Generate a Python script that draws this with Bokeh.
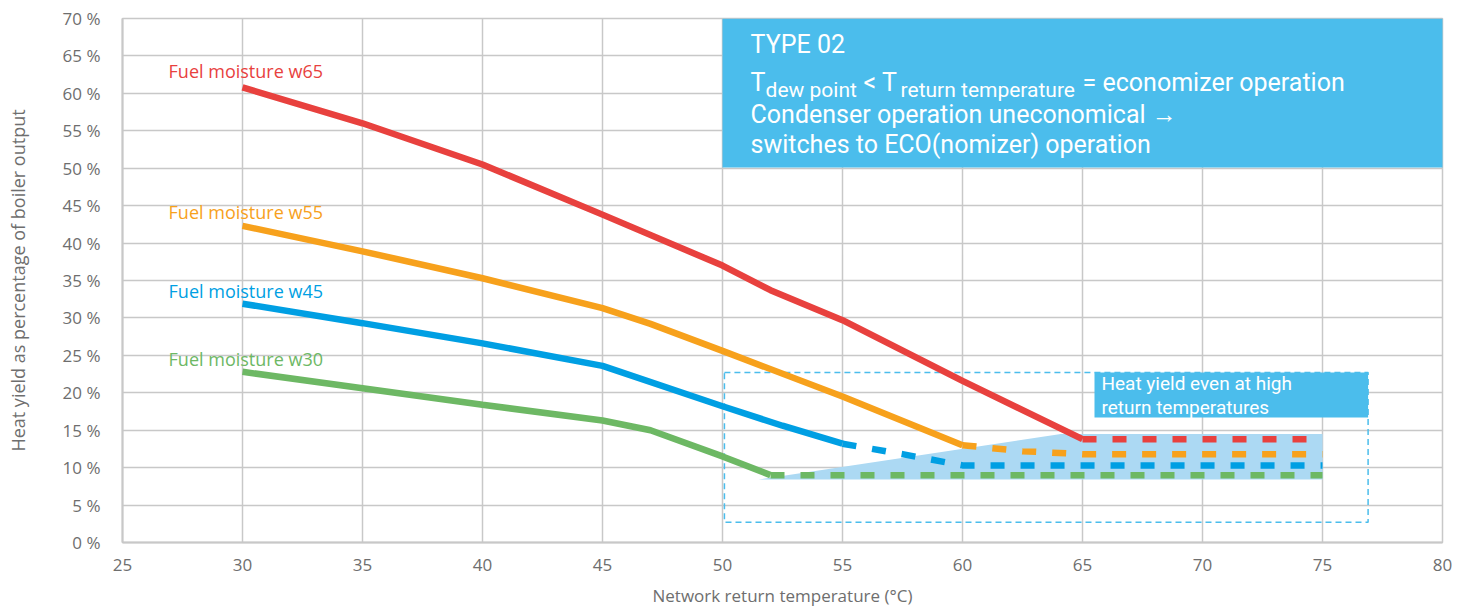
from bokeh.plotting import figure
from bokeh.models import Range1d, FixedTicker, PrintfTickFormatter, Label
from bokeh.embed import file_html
from bokeh.resources import INLINE

# ---- data ----
x_ticks = [25, 30, 35, 40, 45, 50, 55, 60, 65, 70, 75, 80]
y_ticks = [0, 5, 10, 15, 20, 25, 30, 35, 40, 45, 50, 55, 60, 65, 70]

w65_x = [30, 35, 40, 45, 50, 52, 55, 60, 65]
w65_y = [60.8, 56.0, 50.5, 43.8, 37.0, 33.7, 29.7, 21.6, 13.8]
w65_dx = [65, 75]
w65_dy = [13.8, 13.8]

w55_x = [30, 35, 40, 45, 47, 50, 55, 60]
w55_y = [42.3, 38.9, 35.3, 31.3, 29.2, 25.6, 19.5, 13.0]
w55_dx = [60, 62.5, 65, 75]
w55_dy = [13.0, 12.2, 11.8, 11.8]

w45_x = [30, 35, 40, 45, 50, 52.5, 55]
w45_y = [31.9, 29.3, 26.6, 23.6, 18.2, 15.6, 13.2]
w45_dx = [55, 57.5, 60, 75]
w45_dy = [13.2, 11.8, 10.3, 10.3]

w30_x = [30, 35, 40, 45, 47, 50, 52]
w30_y = [22.8, 20.6, 18.4, 16.3, 15.0, 11.5, 9.0]
w30_dx = [52, 75]
w30_dy = [9.0, 9.0]

zone_x = [51.5, 64.1, 75, 75]
zone_y = [8.4, 14.5, 14.5, 8.4]

series_names = ["Fuel moisture w65", "Fuel moisture w55", "Fuel moisture w45", "Fuel moisture w30"]
series_colors = ["#e8413e", "#f7a11c", "#009fe3", "#6db864"]

RED, ORANGE, BLUE, GREEN = series_colors
BOX = "#4bbdec"
GRID = "#c8c8c8"
TXT = "#6e6e6e"

p = figure(width=1462, height=609, output_backend="svg", toolbar_location=None,
           x_range=Range1d(25, 80), y_range=Range1d(0, 70),
           min_border_left=122, min_border_right=20, min_border_top=18, min_border_bottom=67)
p.outline_line_color = GRID
p.outline_line_width = 1.5
p.background_fill_color = "white"

p.xaxis.ticker = FixedTicker(ticks=x_ticks)
p.yaxis.ticker = FixedTicker(ticks=y_ticks)
p.yaxis.formatter = PrintfTickFormatter(format="%d %%")
for ax in (p.xaxis[0], p.yaxis[0]):
    ax.axis_line_color = GRID
    ax.axis_line_width = 2
    ax.major_tick_line_color = None
    ax.minor_tick_line_color = None
    ax.major_label_text_font = "Open Sans"
    ax.major_label_text_font_size = "17px"
    ax.major_label_text_color = TXT
    ax.axis_label_text_font = "Open Sans"
    ax.axis_label_text_font_style = "normal"
    ax.axis_label_text_color = TXT
p.xaxis.axis_label_text_font_size = "17px"
p.yaxis.axis_label_text_font_size = "18px"
p.xaxis.major_label_standoff = 10
p.yaxis.major_label_standoff = 16
p.xaxis.axis_label = "Network return temperature (°C)"
p.yaxis.axis_label = "Heat yield as percentage of boiler output"
p.xaxis.axis_label_standoff = 10
p.yaxis.axis_label_standoff = 30

p.xgrid.ticker = FixedTicker(ticks=x_ticks)
p.ygrid.ticker = FixedTicker(ticks=y_ticks)
p.grid.grid_line_color = GRID
p.grid.grid_line_width = 1.5

# dashed region frame
p.quad(left=50.08, right=76.9, bottom=2.7, top=22.7, fill_color=None,
       line_color=BOX, line_width=1.5, line_dash="6 4")
# shaded zone
p.patch(zone_x, zone_y, fill_color="#acd9f3", line_color=None)

LW = 6.5
p.line(w65_x, w65_y, line_color=RED, line_width=LW)
p.line(w55_x, w55_y, line_color=ORANGE, line_width=LW)
p.line(w45_x, w45_y, line_color=BLUE, line_width=LW)
p.line(w30_x, w30_y, line_color=GREEN, line_width=LW)
DASH = "14 16"
p.line(w65_dx, w65_dy, line_color=RED, line_width=LW, line_dash=DASH)
p.line(w55_dx, w55_dy, line_color=ORANGE, line_width=LW, line_dash=DASH)
p.line(w45_dx, w45_dy, line_color=BLUE, line_width=LW, line_dash=DASH)
p.line(w30_dx, w30_dy, line_color=GREEN, line_width=LW, line_dash=DASH)

# series labels
label_y = [63.05, 44.1, 33.66, 24.58]
for name, col, ly in zip(series_names, series_colors, label_y):
    p.add_layout(Label(x=26.92, y=ly, text=name, text_color=col, text_font="Open Sans",
                       text_font_size="18px", text_baseline="middle"))

# top info box
p.quad(left=50.0, right=80.08, bottom=50.1, top=70, fill_color=BOX, line_color=None)
F = "Roboto"
def lab(x, y, t, size, xo=0):
    p.add_layout(Label(x=x, y=y, x_offset=xo, text=t, text_color="white", text_font=F,
                       text_font_size=size, text_baseline="middle"))
bx = 51.17
lab(bx, 66.5, "TYPE 02", "25px")
lab(bx, 61.45, "T", "25px", 0)
lab(bx, 60.4, "dew point", "21px", 15)
lab(bx, 61.45, "< T", "25px", 113)
lab(bx, 60.4, "return temperature", "21px", 150)
lab(bx, 61.45, "= economizer operation", "25px", 332)
lab(bx, 57.2, "Condenser operation uneconomical \u2192", "25px")
lab(bx, 53.2, "switches to ECO(nomizer) operation", "25px")

# heat yield box
p.quad(left=65.5, right=76.9, bottom=16.7, top=22.7, fill_color=BOX, line_color=None)
p.add_layout(Label(x=65.79, y=21.2, text="Heat yield even at high", text_color="white",
                   text_font=F, text_font_size="19px", text_baseline="middle"))
p.add_layout(Label(x=65.79, y=18.0, text="return temperatures", text_color="white",
                   text_font=F, text_font_size="19px", text_baseline="middle"))

open("out.html", "w").write(file_html(p, INLINE))
